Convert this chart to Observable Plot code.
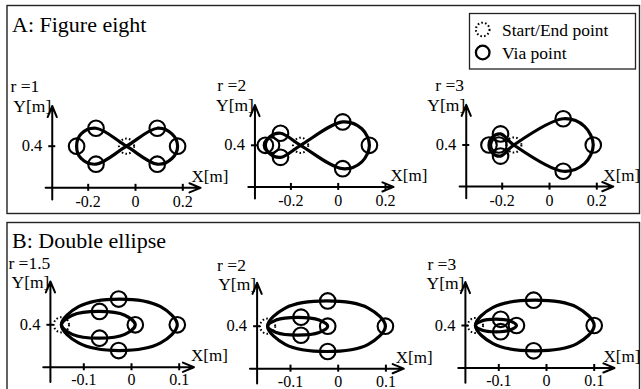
<!DOCTYPE html>
<html><head><meta charset="utf-8">
<script src="https://cdn.jsdelivr.net/npm/d3@7"></script>
<script src="https://cdn.jsdelivr.net/npm/@observablehq/plot@0.6"></script>
<style>
body{margin:0;background:#fff;}
#fig{position:relative;width:641px;height:389px;overflow:hidden;background:#fff;font-family:"Liberation Serif","Times New Roman",serif;color:#000;}
.layer{position:absolute;}
</style></head><body><div id="fig"></div>
<script>
// ---------- data (metres) ----------
const xTicksA = [-0.2, 0, 0.2];
const xTicksB = [-0.1, 0, 0.1];
const yTicks = [0.4];
const rLabelsA = ["r =1", "r =2", "r =3"];
const rLabelsB = ["r =1.5", "r =2", "r =3"];

// A: figure eight
const eight1Path = [[-0.038,0.400],[0.092,0.476],[0.154,0.452],[0.178,0.400],[0.154,0.348],[0.092,0.324],
  [-0.038,0.400],[-0.167,0.476],[-0.230,0.452],[-0.249,0.400],[-0.230,0.348],[-0.167,0.324]];
const eight1Via = [[-0.167,0.476],[-0.249,0.400],[-0.167,0.324],[0.092,0.476],[0.178,0.400],[0.092,0.324]];
const eight1Start = [[-0.038,0.400]];

const eight2Path = [[-0.159,0.400],[0.019,0.499],[0.100,0.470],[0.132,0.400],[0.100,0.330],[0.019,0.301],
  [-0.159,0.400],[-0.244,0.451],[-0.289,0.436],[-0.308,0.400],[-0.289,0.364],[-0.244,0.349]];
const eight2Via = [[-0.244,0.451],[-0.308,0.400],[-0.282,0.400],[-0.244,0.349],[0.019,0.499],[0.132,0.400],[0.019,0.301]];
const eight2Start = [[-0.159,0.400]];

const eight3Path = [[-0.151,0.400],[0.058,0.511],[0.148,0.479],[0.185,0.400],[0.148,0.321],[0.058,0.289],
  [-0.151,0.400],[-0.207,0.447],[-0.242,0.433],[-0.256,0.400],[-0.242,0.367],[-0.207,0.353]];
const eight3Via = [[-0.207,0.447],[-0.256,0.400],[-0.214,0.400],[-0.207,0.353],[0.058,0.511],[0.185,0.400],[0.058,0.289]];
const eight3Start = [[-0.151,0.400]];

// B: double ellipse
const ell1Outer = [[-0.147,0.400],[-0.111,0.438],[-0.025,0.454],[0.061,0.438],[0.096,0.400],[0.061,0.362],[-0.025,0.346],[-0.111,0.362]];
const ell1Inner = [[-0.147,0.400],[-0.124,0.420],[-0.069,0.428],[-0.014,0.420],[0.008,0.400],[-0.014,0.380],[-0.069,0.372],[-0.124,0.380]];
const ell1Via = [[-0.027,0.454],[0.096,0.400],[-0.027,0.346],[-0.067,0.428],[0.008,0.400],[-0.067,0.372]];
const ell1Start = [[-0.147,0.400]];

const ell2Outer = [[-0.148,0.400],[-0.111,0.438],[-0.024,0.453],[0.063,0.438],[0.099,0.400],[0.063,0.362],[-0.024,0.347],[-0.111,0.362]];
const ell2Inner = [[-0.148,0.400],[-0.130,0.413],[-0.085,0.4185],[-0.040,0.413],[-0.022,0.400],[-0.040,0.387],[-0.085,0.3815],[-0.130,0.387]];
const ell2Via = [[-0.022,0.453],[0.099,0.400],[-0.022,0.347],[-0.078,0.419],[-0.022,0.400],[-0.078,0.381]];
const ell2Start = [[-0.148,0.400]];

const ell3Outer = [[-0.149,0.400],[-0.112,0.438],[-0.024,0.453],[0.064,0.438],[0.100,0.400],[0.064,0.362],[-0.024,0.347],[-0.112,0.362]];
const ell3Inner = [[-0.149,0.400],[-0.136,0.4095],[-0.106,0.4134],[-0.076,0.4095],[-0.063,0.400],[-0.076,0.3905],[-0.106,0.3866],[-0.136,0.3905]];
const ell3Via = [[-0.027,0.453],[0.100,0.400],[-0.027,0.347],[-0.096,0.413],[-0.063,0.400],[-0.096,0.387]];
const ell3Start = [[-0.149,0.400]];

// ---------- layout (pixels) ----------
const FONT = "Liberation Serif, Times New Roman, serif";
const axA = {k: 236.5, top: 70, H: 145, yAxisX: -0.352, xAxisY: 0.224, xStart: -0.38, yBottom: 0.175, yTop: 0.57, tickDy: 19, ylabDy: 6, rDy: -14};
const axB = {k: 477, top: 250, H: 139, yAxisX: -0.170, xAxisY: 0.311, xStart: -0.185, yBottom: 0.28, yTop: 0.491, tickDy: 18, ylabDy: 7, rDy: -12};
const layA = [
  {left: 0, W: 205, X0: 135, Y04: 145.7, xEnd: 0.275, xlabDx: -9, rDx: -41.8},
  {left: 205, W: 210, X0: 337.7, Y04: 144.8, xEnd: 0.234, xlabDx: -3, rDx: -37.6},
  {left: 415, W: 226, X0: 549, Y04: 144.5, xEnd: 0.27, xlabDx: -10, rDx: -31}
];
const layB = [
  {left: 0, W: 205, X0: 131, Y04: 324.3, xEnd: 0.131, xlabDx: -3, rDx: -42},
  {left: 205, W: 210, X0: 337.7, Y04: 325.7, xEnd: 0.1375, xlabDx: -8, rDx: -40},
  {left: 415, W: 226, X0: 546, Y04: 325, xEnd: 0.1426, xlabDx: -11, rDx: -38}
];

const rows = (pairs, loop) => pairs.map(([x, y]) => ({x, y, loop}));

const fig = document.getElementById("fig");

// background: panel frames and titles
const bg = d3.create("svg").attr("width", 641).attr("height", 389)
  .attr("class", "layer").style("left", "0px").style("top", "0px");
bg.append("rect").attr("x", 7).attr("y", 5.5).attr("width", 632.5).attr("height", 208)
  .attr("fill", "none").attr("stroke", "#222").attr("stroke-width", 1.4);
bg.append("rect").attr("x", 7).attr("y", 222.5).attr("width", 632.5).attr("height", 200)
  .attr("fill", "none").attr("stroke", "#222").attr("stroke-width", 1.4);
bg.append("text").attr("x", 12).attr("y", 32).attr("font-family", FONT).attr("font-size", 22).text("A: Figure eight");
bg.append("text").attr("x", 12).attr("y", 248).attr("font-family", FONT).attr("font-size", 22).text("B: Double ellipse");
fig.appendChild(bg.node());

function subplot(ax, L, d) {
  const k = ax.k;
  const xd = [(L.left - L.X0) / k, (L.left + L.W - L.X0) / k];
  const yd = [0.4 + (L.Y04 - (ax.top + ax.H)) / k, 0.4 + (L.Y04 - ax.top) / k];
  const tk = 3.5 / k;
  const T = {fontFamily: FONT, fill: "#000", lineAnchor: "bottom"};
  const svg = Plot.plot({
    width: L.W, height: ax.H,
    marginTop: 0, marginRight: 0, marginBottom: 0, marginLeft: 0,
    x: {domain: xd, axis: null},
    y: {domain: yd, axis: null},
    style: {background: "transparent", overflow: "visible", fontFamily: FONT, color: "#000"},
    marks: [
      Plot.arrow([0], {x1: ax.yAxisX, x2: ax.yAxisX, y1: ax.yBottom, y2: ax.yTop, stroke: "#000", strokeWidth: 2, headLength: 9, headAngle: 45}),
      Plot.arrow([0], {x1: ax.xStart, x2: L.xEnd, y1: ax.xAxisY, y2: ax.xAxisY, stroke: "#000", strokeWidth: 2, headLength: 9, headAngle: 45}),
      Plot.ruleX(d.xTicks, {x: t => t, y1: ax.xAxisY - tk, y2: ax.xAxisY + tk, stroke: "#000", strokeWidth: 2}),
      Plot.ruleY(yTicks, {y: t => t, x1: ax.yAxisX - tk, x2: ax.yAxisX + tk, stroke: "#000", strokeWidth: 2}),
      Plot.text(d.xTicks, {...T, x: t => t, y: ax.xAxisY, dy: ax.tickDy, text: t => String(t), fontSize: 16}),
      Plot.text(yTicks, {...T, x: ax.yAxisX, y: t => t, dx: -10, dy: 5, text: t => String(t), textAnchor: "end", fontSize: 16.5}),
      Plot.text(["Y[m]"], {...T, x: ax.yAxisX, y: ax.yTop, dx: -1, dy: ax.ylabDy, text: t => t, textAnchor: "end", fontSize: 17.5}),
      Plot.text(["X[m]"], {...T, x: L.xEnd, y: ax.xAxisY, dx: L.xlabDx, dy: -6, text: t => t, textAnchor: "start", fontSize: 17}),
      Plot.text([d.rLabel], {...T, x: ax.yAxisX, y: ax.yTop, dx: L.rDx, dy: ax.rDy, text: t => t, textAnchor: "start", fontSize: 17.5}),
      Plot.line(d.path, {x: "x", y: "y", z: "loop", curve: "catmull-rom-closed", stroke: "#000", strokeWidth: 3.2, strokeLinejoin: "round"}),
      Plot.dot(d.via, {x: "x", y: "y", r: 7.8, stroke: "#000", strokeWidth: 2.1, fill: "none"}),
      Plot.dot(d.start, {x: "x", y: "y", r: 7.6, stroke: "#000", strokeWidth: 2, strokeDasharray: "1.6,2.2", fill: "none"})
    ]
  });
  const wrap = document.createElement("div");
  wrap.className = "layer";
  wrap.style.left = L.left + "px";
  wrap.style.top = ax.top + "px";
  wrap.appendChild(svg);
  fig.appendChild(wrap);
}

const eightData = [
  {path: rows(eight1Path, "a"), via: rows(eight1Via), start: rows(eight1Start)},
  {path: rows(eight2Path, "a"), via: rows(eight2Via), start: rows(eight2Start)},
  {path: rows(eight3Path, "a"), via: rows(eight3Via), start: rows(eight3Start)}
];
const ellData = [
  {path: [...rows(ell1Outer, "outer"), ...rows(ell1Inner, "inner")], via: rows(ell1Via), start: rows(ell1Start)},
  {path: [...rows(ell2Outer, "outer"), ...rows(ell2Inner, "inner")], via: rows(ell2Via), start: rows(ell2Start)},
  {path: [...rows(ell3Outer, "outer"), ...rows(ell3Inner, "inner")], via: rows(ell3Via), start: rows(ell3Start)}
];
eightData.forEach((d, i) => subplot(axA, layA[i], {...d, xTicks: xTicksA, rLabel: rLabelsA[i]}));
ellData.forEach((d, i) => subplot(axB, layB[i], {...d, xTicks: xTicksB, rLabel: rLabelsB[i]}));

// legend
const lg = d3.create("svg").attr("width", 641).attr("height", 80)
  .attr("class", "layer").style("left", "0px").style("top", "0px");
lg.append("rect").attr("x", 469.5).attr("y", 13.5).attr("width", 166).attr("height", 55.5)
  .attr("fill", "#fff").attr("stroke", "#222").attr("stroke-width", 1.3);
lg.append("circle").attr("cx", 482.7).attr("cy", 29.5).attr("r", 6.8).attr("fill", "none")
  .attr("stroke", "#000").attr("stroke-width", 2).attr("stroke-dasharray", "1.6,2.2");
lg.append("text").attr("x", 502).attr("y", 35.5).attr("font-family", FONT).attr("font-size", 17.5).text("Start/End point");
lg.append("circle").attr("cx", 482.7).attr("cy", 52.5).attr("r", 6.8).attr("fill", "none")
  .attr("stroke", "#000").attr("stroke-width", 2.3);
lg.append("text").attr("x", 502).attr("y", 58.5).attr("font-family", FONT).attr("font-size", 17.5).text("Via point");
fig.appendChild(lg.node());
</script>
</body></html>
